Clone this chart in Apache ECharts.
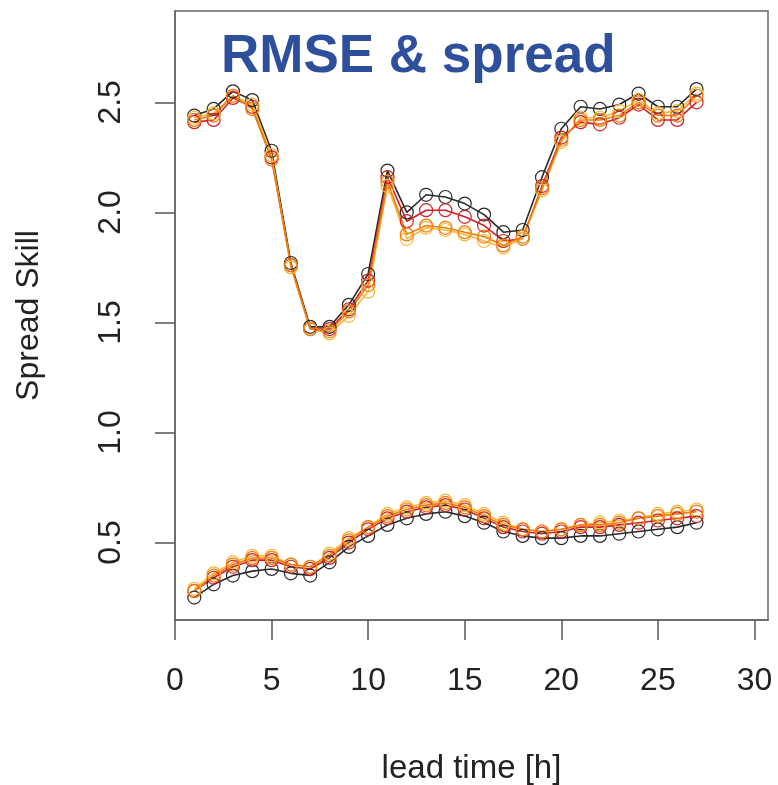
<!DOCTYPE html>
<html>
<head>
<meta charset="utf-8">
<script src="https://cdn.jsdelivr.net/npm/echarts@6/dist/echarts.min.js"></script>
<style>
  html, body { margin: 0; padding: 0; background: #fff; }
  #main { width: 778px; height: 785px; }
</style>
</head>
<body>
<div id="main"></div>
<script>
var leadTime = [1, 2, 3, 4, 5, 6, 7, 8, 9, 10, 11, 12, 13, 14, 15, 16, 17, 18, 19, 20, 21, 22, 23, 24, 25, 26, 27];

// RMSE (upper curves)
var rmseBlack  = [2.44, 2.47, 2.55, 2.51, 2.28, 1.77, 1.48, 1.48, 1.58, 1.72, 2.19, 2.00, 2.08, 2.07, 2.04, 1.99, 1.91, 1.92, 2.16, 2.38, 2.48, 2.47, 2.49, 2.54, 2.48, 2.48, 2.56];
var rmseRed    = [2.41, 2.42, 2.52, 2.48, 2.25, 1.76, 1.47, 1.47, 1.56, 1.69, 2.16, 1.96, 2.01, 2.01, 1.98, 1.94, 1.87, 1.88, 2.12, 2.34, 2.41, 2.40, 2.43, 2.49, 2.42, 2.42, 2.50];
var rmseOrange = [2.42, 2.44, 2.53, 2.47, 2.24, 1.76, 1.47, 1.46, 1.55, 1.67, 2.14, 1.90, 1.94, 1.93, 1.91, 1.89, 1.85, 1.89, 2.11, 2.33, 2.42, 2.42, 2.44, 2.50, 2.44, 2.44, 2.53];
var rmseYellow = [2.43, 2.45, 2.53, 2.49, 2.26, 1.75, 1.47, 1.45, 1.53, 1.64, 2.12, 1.88, 1.93, 1.92, 1.90, 1.87, 1.84, 1.88, 2.10, 2.32, 2.43, 2.43, 2.46, 2.51, 2.45, 2.46, 2.54];

// spread (lower curves)
var sprBlack  = [0.25, 0.31, 0.35, 0.37, 0.38, 0.36, 0.35, 0.41, 0.48, 0.53, 0.58, 0.61, 0.63, 0.64, 0.62, 0.59, 0.55, 0.53, 0.52, 0.52, 0.53, 0.53, 0.54, 0.55, 0.56, 0.57, 0.59];
var sprRed    = [0.28, 0.34, 0.39, 0.42, 0.42, 0.39, 0.38, 0.43, 0.50, 0.56, 0.61, 0.64, 0.66, 0.67, 0.65, 0.61, 0.57, 0.55, 0.54, 0.55, 0.57, 0.57, 0.58, 0.59, 0.60, 0.61, 0.62];
var sprOrange = [0.28, 0.35, 0.40, 0.43, 0.43, 0.40, 0.39, 0.44, 0.51, 0.57, 0.62, 0.65, 0.67, 0.68, 0.66, 0.62, 0.58, 0.56, 0.55, 0.56, 0.58, 0.58, 0.59, 0.61, 0.62, 0.63, 0.64];
var sprYellow = [0.29, 0.36, 0.41, 0.44, 0.44, 0.40, 0.39, 0.45, 0.52, 0.57, 0.63, 0.66, 0.68, 0.69, 0.67, 0.63, 0.59, 0.56, 0.55, 0.56, 0.58, 0.59, 0.60, 0.61, 0.63, 0.64, 0.65];

var xTicks = [0, 5, 10, 15, 20, 25, 30];
var yTicks = [0.5, 1.0, 1.5, 2.0, 2.5];

var colBlack = '#2a2a2a';
var colRed = '#d0202a';
var colOrange = '#f27a0a';
var colYellow = '#f7b83a';

function pairs(vals) {
    return leadTime.map(function (t, i) { return [t, vals[i]]; });
}

function makeSeries(name, vals, color) {
    return {
        name: name,
        type: 'line',
        data: pairs(vals),
        symbol: 'circle',
        symbolSize: 13,
        lineStyle: { color: color, width: 1.6 },
        itemStyle: { color: 'rgba(0,0,0,0)', borderColor: color, borderWidth: 1.2 },
        emphasis: { disabled: true },
        silent: true,
        animation: false
    };
}

var chart = echarts.init(document.getElementById('main'));

var font = '"Liberation Sans", Arial, Helvetica, sans-serif';

option = {
    backgroundColor: '#fff',
    textStyle: { fontFamily: font },
    title: {
        text: 'RMSE & spread',
        left: 216,
        top: 26,
        textStyle: {
            fontFamily: font,
            fontSize: 53,
            fontWeight: 'bold',
            color: '#2d4f9c'
        }
    },
    grid: {
        left: 175,
        right: 10,
        top: 11,
        bottom: 165,
        show: true,
        borderColor: '#666',
        borderWidth: 1.5,
        containLabel: false,
        outerBoundsMode: 'none'
    },
    xAxis: {
        type: 'value',
        min: 0,
        max: 30.7,
        name: 'lead time [h]',
        nameLocation: 'middle',
        nameGap: 132,
        nameTextStyle: { fontSize: 33, color: '#222', fontFamily: font },
        splitLine: { show: false },
        axisLine: { show: true, onZero: false, lineStyle: { color: '#666', width: 1.5 } },
        axisTick: {
            show: true,
            inside: false,
            length: 20,
            customValues: xTicks,
            lineStyle: { color: '#555', width: 1.5 }
        },
        axisLabel: {
            customValues: xTicks,
            fontSize: 32,
            color: '#222',
            margin: 45,
            fontFamily: font
        }
    },
    yAxis: {
        type: 'value',
        min: 0.148,
        max: 2.915,
        name: 'Spread Skill',
        nameLocation: 'middle',
        nameRotate: 90,
        nameGap: 130,
        nameTextStyle: { fontSize: 32, color: '#222', fontFamily: font },
        splitLine: { show: false },
        axisLine: { show: true, onZero: false, lineStyle: { color: '#666', width: 1.5 } },
        axisTick: {
            show: true,
            inside: false,
            length: 20,
            customValues: yTicks,
            lineStyle: { color: '#555', width: 1.5 }
        },
        axisLabel: {
            customValues: yTicks,
            rotate: 90,
            fontSize: 32,
            color: '#222',
            margin: 48,
            fontFamily: font,
            formatter: function (v) { return v.toFixed(1); }
        }
    },
    series: [
        makeSeries('RMSE black', rmseBlack, colBlack),
        makeSeries('RMSE red', rmseRed, colRed),
        makeSeries('RMSE yellow', rmseYellow, colYellow),
        makeSeries('RMSE orange', rmseOrange, colOrange),
        makeSeries('spread black', sprBlack, colBlack),
        makeSeries('spread red', sprRed, colRed),
        makeSeries('spread yellow', sprYellow, colYellow),
        makeSeries('spread orange', sprOrange, colOrange)
    ]
};

chart.setOption(option);
</script>
</body>
</html>
